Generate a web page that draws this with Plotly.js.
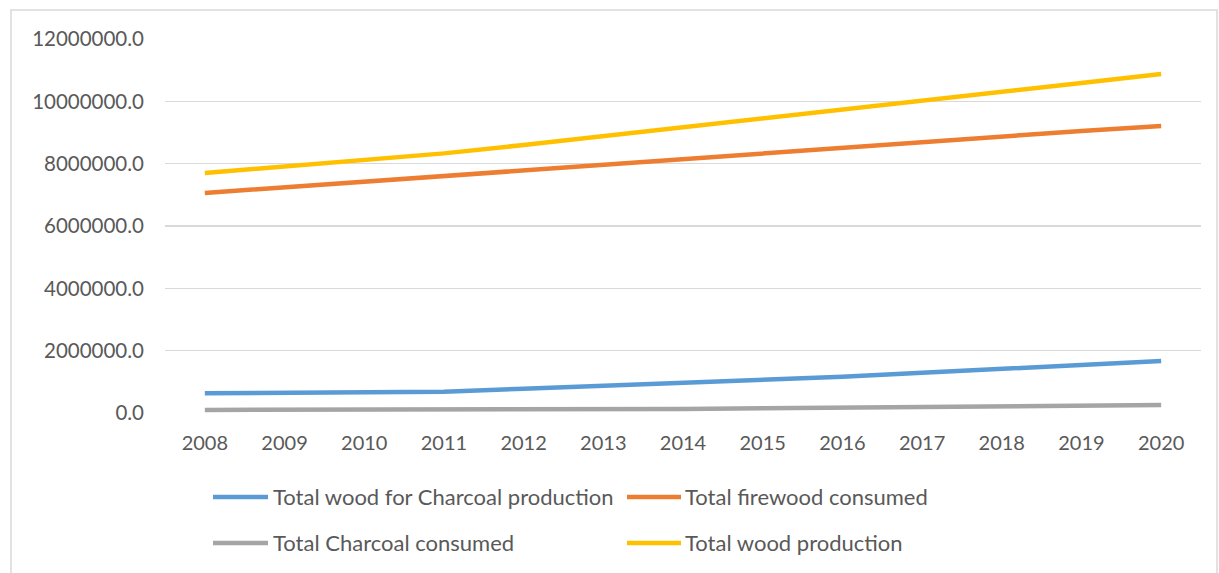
<!DOCTYPE html>
<html><head><meta charset="utf-8">
<script src="https://cdn.plot.ly/plotly-3.0.1.min.js"></script>
<style>body{margin:0;background:#fff}#chart{width:1219px;height:573px}</style>
</head><body><div id="chart"></div>
<script>
const years = ['2008','2009','2010','2011','2012','2013','2014','2015','2016','2017','2018','2019','2020'];
const seriesNames = ['Total wood for Charcoal production','Total firewood consumed','Total Charcoal consumed','Total wood production'];
const woodForCharcoal = [630000,650000,665000,680000,780000,870000,970000,1060000,1160000,1290000,1420000,1550000,1670000];
const firewoodConsumed = [7060000,7240000,7420000,7600000,7780000,7960000,8150000,8340000,8530000,8710000,8880000,9050000,9210000];
const charcoalConsumed = [100000,100000,100000,100000,110000,120000,130000,150000,170000,190000,210000,230000,260000];
const woodProduction = [7700000,7910000,8120000,8330000,8600000,8880000,9160000,9440000,9720000,10010000,10300000,10590000,10880000];
const seriesValues = [woodForCharcoal, firewoodConsumed, charcoalConsumed, woodProduction];
const colors = ['#5B9BD5','#ED7D31','#A5A5A5','#FFC000'];
const yTicks = [0,2000000,4000000,6000000,8000000,10000000,12000000];

const W = 1219, H = 573;
const M = {l:165, r:18, t:39, b:160};
const pw = W - M.l - M.r, ph = H - M.t - M.b;
const px = x => (x - M.l) / pw;
const py = y => (H - M.b - y) / ph;
const FONT = 'Lato';

const traces = seriesValues.map((v,i)=>({
  x: years, y: v, type:'scatter', mode:'lines', name: seriesNames[i],
  line:{color:colors[i], width:4.5}, showlegend:false
}));

const shapes = [{type:'rect', xref:'paper', yref:'paper', x0:px(11), x1:px(1217), y0:py(580), y1:py(10),
  line:{color:'#D9D9D9', width:1.5}, fillcolor:'rgba(0,0,0,0)', layer:'below'}];
const annotations = [];
const legCols = [{l0:213,l1:268,t:271},{l0:627,l1:681,t:683}];
const legRows = [496, 542];
seriesNames.forEach((n,i)=>{
  const c = legCols[i%2], r = legRows[Math.floor(i/2)];
  shapes.push({type:'line', xref:'paper', yref:'paper', x0:px(c.l0), x1:px(c.l1), y0:py(r+1), y1:py(r+1),
    line:{color:colors[i], width:4.5}});
  annotations.push({xref:'paper', yref:'paper', x:px(c.t), y:py(r), xanchor:'left', yanchor:'middle',
    text:n, showarrow:false, font:{family:FONT, size:22, color:'#595959'}});
});

const layout = {
  width:W, height:H, margin:M, paper_bgcolor:'#fff', plot_bgcolor:'#fff',
  font:{family:FONT, size:20, color:'#595959'},
  xaxis:{type:'category', showgrid:false, zeroline:false, showline:false, ticks:'', ticklen:0,
    ticklabelstandoff:16, tickfont:{family:FONT, size:20, color:'#595959'}, range:[-0.5,12.5]},
  yaxis:{range:[0,12000000], tickvals:yTicks, ticktext:yTicks.map(v=>v.toFixed(1)),
    showgrid:true, gridcolor:'#D9D9D9', gridwidth:1.5, zeroline:false, showline:false, ticks:'',
    ticklabelstandoff:20, tickfont:{family:FONT, size:20.5, color:'#595959'}},
  shapes, annotations, showlegend:false
};
Plotly.newPlot('chart', traces, layout, {displayModeBar:false, staticPlot:true});
</script></body></html>
